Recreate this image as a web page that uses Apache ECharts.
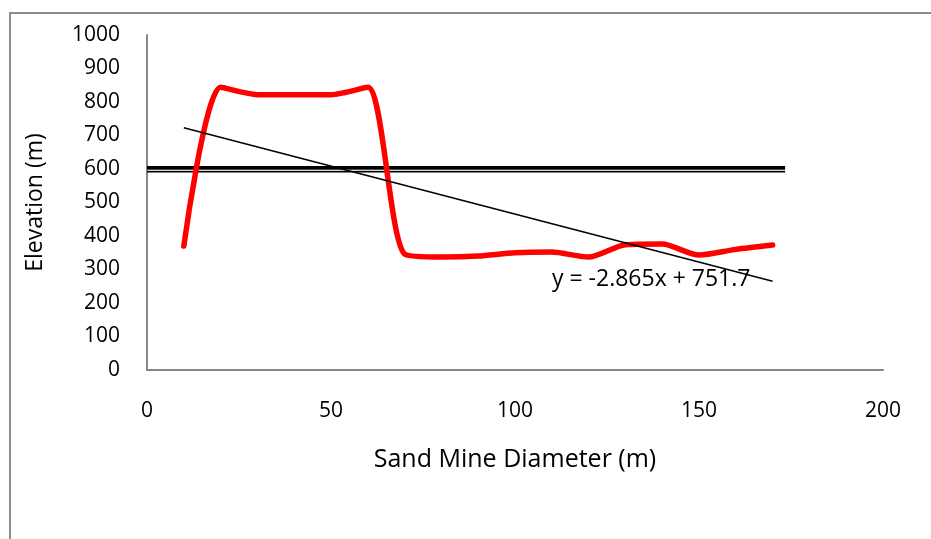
<!DOCTYPE html>
<html>
<head>
<meta charset="utf-8">
<script src="https://cdn.jsdelivr.net/npm/echarts@6/dist/echarts.min.js"></script>
<style>
  html, body { margin: 0; padding: 0; background: #fff; }
  #main { width: 931px; height: 539px; }
</style>
</head>
<body>
<div id="main"></div>
<script>
// sand mine profile
const diameter = [10, 20, 30, 40, 50, 60, 70, 80, 90, 100, 110, 120, 130, 140, 150, 160, 170];
const elevation = [370, 844, 822, 822, 822, 844, 346, 337, 340, 350, 352, 337, 374, 376, 343, 360, 373];

// linear trend (y = -2.865x + 751.7), end points
const trendX = [10, 170];
const trendY = [723.1, 264.7];

// horizontal reference line (double line)
const refX = [0, 173.4];
const refThick = 603;
const refThin = 592;

const xTicks = { min: 0, max: 200, interval: 50 };
const yTicks = { min: 0, max: 1000, interval: 100 };

const font = "'Open Sans', 'Noto Sans', sans-serif";

let myChart = echarts.init(document.getElementById("main"));
let option = {
  animation: false,
  grid: { left: 147, right: 48, top: 35, bottom: 169 },
  graphic: [
    {
      type: "rect",
      shape: { x: 10, y: 13, width: 1000, height: 1000 },
      style: { fill: "none", stroke: "#8c8c8c", lineWidth: 2 },
      silent: true,
    },
    {
      type: "text",
      left: 552,
      top: 268,
      style: { text: "y = -2.865x + 751.7", fontSize: 23, fontFamily: font, fill: "#000" },
      z: 10,
    },
  ],
  xAxis: {
    type: "value",
    min: xTicks.min,
    max: xTicks.max,
    interval: xTicks.interval,
    name: "Sand Mine Diameter (m)",
    nameLocation: "middle",
    nameGap: 77,
    nameTextStyle: { fontSize: 25, fontFamily: font, color: "#000" },
    axisLine: { lineStyle: { color: "#868686", width: 2 } },
    axisTick: { show: false },
    splitLine: { show: false },
    axisLabel: { margin: 31, fontSize: 21, fontFamily: font, color: "#000" },
  },
  yAxis: {
    type: "value",
    min: yTicks.min,
    max: yTicks.max,
    interval: yTicks.interval,
    name: "Elevation (m)",
    nameLocation: "middle",
    nameGap: 100,
    nameTextStyle: { fontSize: 23, fontFamily: font, color: "#000" },
    axisLine: { show: true, lineStyle: { color: "#868686", width: 2 } },
    axisTick: { show: false },
    splitLine: { show: false },
    axisLabel: {
      margin: 27,
      fontSize: 21,
      fontFamily: font,
      color: "#000",
      formatter: (v) => String(v),
    },
  },
  series: [
    {
      name: "ref thick",
      type: "line",
      data: refX.map((x) => [x, refThick]),
      symbol: "none",
      lineStyle: { color: "#000", width: 4 },
      z: 2,
    },
    {
      name: "ref gap",
      type: "line",
      data: refX.map((x) => [x, (refThick + refThin) / 2 - 0.5]),
      symbol: "none",
      lineStyle: { color: "#a0a0a0", width: 1 },
      z: 2,
    },
    {
      name: "ref thin",
      type: "line",
      data: refX.map((x) => [x, refThin]),
      symbol: "none",
      lineStyle: { color: "#000", width: 1.5 },
      z: 2,
    },
    {
      name: "Elevation",
      type: "line",
      data: diameter.map((x, i) => [x, elevation[i]]),
      smooth: 0.25,
      symbol: "none",
      lineStyle: { color: "#ff0000", width: 5.5, cap: "round" },
      z: 3,
    },
    {
      name: "Trend",
      type: "line",
      data: trendX.map((x, i) => [x, trendY[i]]),
      symbol: "none",
      lineStyle: { color: "#000", width: 1.5 },
      z: 4,
    },
  ],
};
myChart.setOption(option);
</script>
</body>
</html>
